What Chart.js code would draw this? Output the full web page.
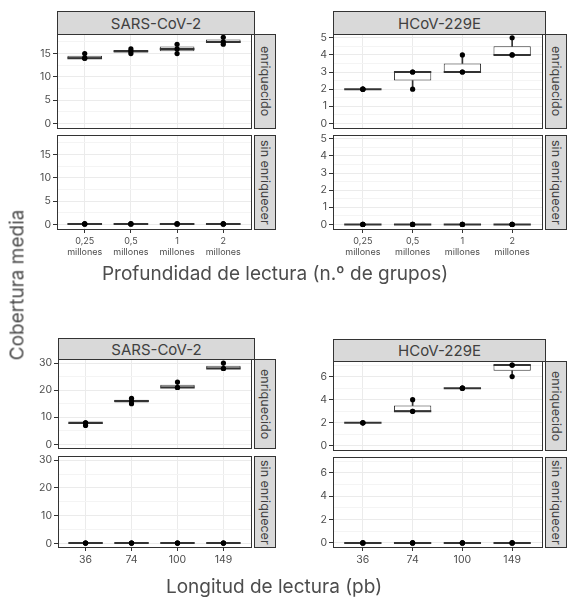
<!DOCTYPE html>
<html>
<head>
<meta charset="utf-8">
<script src="https://cdn.jsdelivr.net/npm/chart.js@4/dist/chart.umd.min.js"></script>
<style>
body { margin: 0; background: #fff; font-family: Inter, sans-serif; }
#wrap { position: relative; width: 567px; height: 601px; overflow: hidden; }
#wrap canvas, .strip, .title { position: absolute; }
.strip { background: #d9d9d9; border: 1px solid #333; box-sizing: border-box; color: #404040; font-size: 15px;
  display: flex; align-items: center; justify-content: center; white-space: nowrap; }
.strip.v { writing-mode: vertical-rl; font-size: 12.5px; }
.title { color: #4d4d4d; font-size: 19px; white-space: nowrap; transform: translate(-50%, -50%); }
.title.rot { transform: translate(-50%, -50%) rotate(-90deg); }
</style>
</head>
<body>
<div id="wrap"></div>
<script>
const depthLabels = [['0,25', 'millones'], ['0,5', 'millones'], ['1', 'millones'], ['2', 'millones']]
const lengthLabels = ['36', '74', '100', '149']

// valores de las réplicas por categoría
const sarsDepthEnr = [[14, 14, 15], [15, 15.5, 16], [15, 16, 17], [17, 17.5, 18.5]]
const sarsDepthSin = [[0.1, 0.1, 0.1], [0.1, 0.1, 0.1], [0.1, 0.1, 0.1], [0.1, 0.1, 0.1]]
const hcovDepthEnr = [[2, 2, 2], [2, 3, 3], [3, 3, 4], [4, 4, 5]]
const hcovDepthSin = [[0, 0, 0], [0, 0, 0], [0, 0, 0], [0, 0, 0]]
const sarsLengthEnr = [[7, 8, 8], [15, 16, 17], [21, 21, 23], [28, 28, 30]]
const sarsLengthSin = [[0.1, 0.1, 0.1], [0.1, 0.1, 0.1], [0.1, 0.1, 0.1], [0.1, 0.1, 0.1]]
const hcovLengthEnr = [[2, 2, 2], [3, 3, 4], [5, 5, 5], [6, 7, 7]]
const hcovLengthSin = [[0, 0, 0], [0, 0, 0], [0, 0, 0], [0, 0, 0]]

const sarsDepthTicks = [0, 5, 10, 15]
const hcovDepthTicks = [0, 1, 2, 3, 4, 5]
const sarsLengthTicks = [0, 10, 20, 30]
const hcovLengthTicks = [0, 2, 4, 6]

const groups = [
    { name: 'SARS-CoV-2', left: 57, right: 254, head: [11, 34], up: [34, 128], low: [135, 229],
      enr: sarsDepthEnr, sin: sarsDepthSin, ticks: sarsDepthTicks, range: [-1, 19.2], labels: depthLabels, fs: 9 },
    { name: 'HCoV-229E', left: 333, right: 545, head: [11, 34], up: [34, 128], low: [135, 229],
      enr: hcovDepthEnr, sin: hcovDepthSin, ticks: hcovDepthTicks, range: [-0.27, 5.22], labels: depthLabels, fs: 9 },
    { name: 'SARS-CoV-2', left: 58, right: 254, head: [338, 359], up: [359, 448], low: [456, 547],
      enr: sarsLengthEnr, sin: sarsLengthSin, ticks: sarsLengthTicks, range: [-1.3, 31.5], labels: lengthLabels, fs: 10.5 },
    { name: 'HCoV-229E', left: 333, right: 545, head: [339, 361], up: [361, 450], low: [457, 547],
      enr: hcovLengthEnr, sin: hcovLengthSin, ticks: hcovLengthTicks, range: [-0.35, 7.35], labels: lengthLabels, fs: 10.5 }
]

const YW = 50, PAD = 10, XH = 40
const wrap = document.getElementById('wrap')

const quantile = (s, p) => {
    const h = (s.length - 1) * p, lo = Math.floor(h)
    return s[lo] + (h - lo) * (s[Math.ceil(h)] - s[lo])
}
const boxStats = vals => {
    const s = [...vals].sort((a, b) => a - b)
    const q1 = quantile(s, 0.25), med = quantile(s, 0.5), q3 = quantile(s, 0.75), iqr = q3 - q1
    const lo = Math.min(...s.filter(v => v >= q1 - 1.5 * iqr))
    const hi = Math.max(...s.filter(v => v <= q3 + 1.5 * iqr))
    return { q1, med, q3, lo, hi }
}

const panelBorder = {
    id: 'panelBorder',
    afterDatasetsDraw(chart) {
        const { ctx, chartArea: a } = chart
        ctx.save()
        ctx.strokeStyle = '#333'
        ctx.lineWidth = 1
        ctx.strokeRect(Math.round(a.left) + 0.5, Math.round(a.top) + 0.5, Math.round(a.right - a.left), Math.round(a.bottom - a.top))
        ctx.restore()
    }
}

const addDiv = (cls, text, l, t, w, h) => {
    const d = document.createElement('div')
    d.className = cls
    d.textContent = text
    Object.assign(d.style, { left: l + 'px', top: t + 'px', width: w + 'px', height: h + 'px' })
    wrap.appendChild(d)
}

const makePanel = (g, values, yr, bottom) => {
    const pw = g.right - g.left, ph = yr[1] - yr[0]
    const cv = document.createElement('canvas')
    cv.width = YW + pw + 1
    cv.height = PAD + ph + (bottom ? XH + 2 : PAD)
    cv.style.left = (g.left - YW) + 'px'
    cv.style.top = (yr[0] - PAD) + 'px'
    wrap.appendChild(cv)

    const stats = values.map(boxStats)
    const step = g.ticks[1] - g.ticks[0]
    const minor = g.ticks.map(v => v + step / 2).filter(v => v < g.range[1])
    const yTicks = [...g.ticks, ...minor].sort((a, b) => a - b)
    const isMajor = v => g.ticks.includes(v)
    const halfBox = c => {
        const s = c.chart.scales.x
        return Math.abs(s.getPixelForValue(1) - s.getPixelForValue(0)) * 0.375
    }

    new Chart(cv, {
        type: 'bar',
        data: {
            datasets: [
                { type: 'line', data: values.flatMap((vs, i) => vs.map(v => ({ x: i, y: v }))), showLine: false,
                  pointRadius: 2.6, pointBackgroundColor: '#000', pointBorderWidth: 0 },
                { type: 'line', data: stats.map((s, i) => ({ x: i, y: s.med })), showLine: false, pointStyle: 'line',
                  pointRadius: halfBox, pointBorderWidth: 2, pointBorderColor: '#333' },
                { data: stats.map((s, i) => ({ x: i, y: [s.q1, s.q3] })), backgroundColor: '#fff', borderColor: '#333',
                  borderWidth: 1, borderSkipped: false, barPercentage: 0.75, categoryPercentage: 1, grouped: false },
                { data: stats.map((s, i) => ({ x: i, y: [s.lo, s.q1] })), backgroundColor: '#333', barThickness: 1, grouped: false },
                { data: stats.map((s, i) => ({ x: i, y: [s.q3, s.hi] })), backgroundColor: '#333', barThickness: 1, grouped: false }
            ]
        },
        options: {
            responsive: false,
            animation: false,
            devicePixelRatio: 1,
            events: [],
            layout: { padding: { top: PAD, bottom: bottom ? 2 : PAD, left: 0, right: 1 } },
            plugins: { legend: { display: false }, tooltip: { enabled: false } },
            scales: {
                x: {
                    type: 'linear', min: -0.6, max: 3.6, offset: false,
                    afterBuildTicks: s => { s.ticks = [0, 1, 2, 3].map(v => ({ value: v })) },
                    afterFit: s => { s.height = bottom ? XH : 0; s.paddingLeft = 0; s.paddingRight = 0 },
                    border: { display: false },
                    grid: { offset: false, color: '#ebebeb', drawTicks: bottom, tickLength: 4, tickColor: '#333' },
                    ticks: {
                        display: bottom, autoSkip: false, maxRotation: 0, padding: 2, color: '#4d4d4d',
                        font: { size: g.fs, lineHeight: 1.3 },
                        callback: v => g.labels[v]
                    }
                },
                y: {
                    min: g.range[0], max: g.range[1],
                    afterBuildTicks: s => { s.ticks = yTicks.map(v => ({ value: v })) },
                    afterFit: s => { s.width = YW; s.paddingTop = 0; s.paddingBottom = 0 },
                    border: { display: false },
                    grid: {
                        color: c => isMajor(c.tick.value) ? '#ebebeb' : '#f4f4f4',
                        tickLength: 4,
                        tickColor: c => isMajor(c.tick.value) ? '#333' : 'rgba(0,0,0,0)'
                    },
                    ticks: {
                        autoSkip: false, padding: 2, color: '#4d4d4d', font: { size: 10.5 },
                        callback: v => isMajor(v) ? String(v) : ''
                    }
                }
            }
        },
        plugins: [panelBorder]
    })
}

Chart.defaults.font.family = 'Inter, sans-serif'

groups.forEach(g => {
    makePanel(g, g.enr, g.up, false)
    makePanel(g, g.sin, g.low, true)
    addDiv('strip', g.name, g.left, g.head[0], g.right - g.left + 1, g.head[1] - g.head[0] + 1)
    addDiv('strip v', 'enriquecido', g.right, g.up[0], 22, g.up[1] - g.up[0] + 1)
    addDiv('strip v', 'sin enriquecer', g.right, g.low[0], 22, g.low[1] - g.low[0] + 1)
})

const addTitle = (text, x, y, rot) => {
    const d = document.createElement('div')
    d.className = rot ? 'title rot' : 'title'
    d.textContent = text
    d.style.left = x + 'px'
    d.style.top = y + 'px'
    wrap.appendChild(d)
}
addTitle('Profundidad de lectura (n.º de grupos)', 275, 273)
addTitle('Longitud de lectura (pb)', 274, 586)
addTitle('Cobertura media', 17, 285, true)
</script>
</body>
</html>
